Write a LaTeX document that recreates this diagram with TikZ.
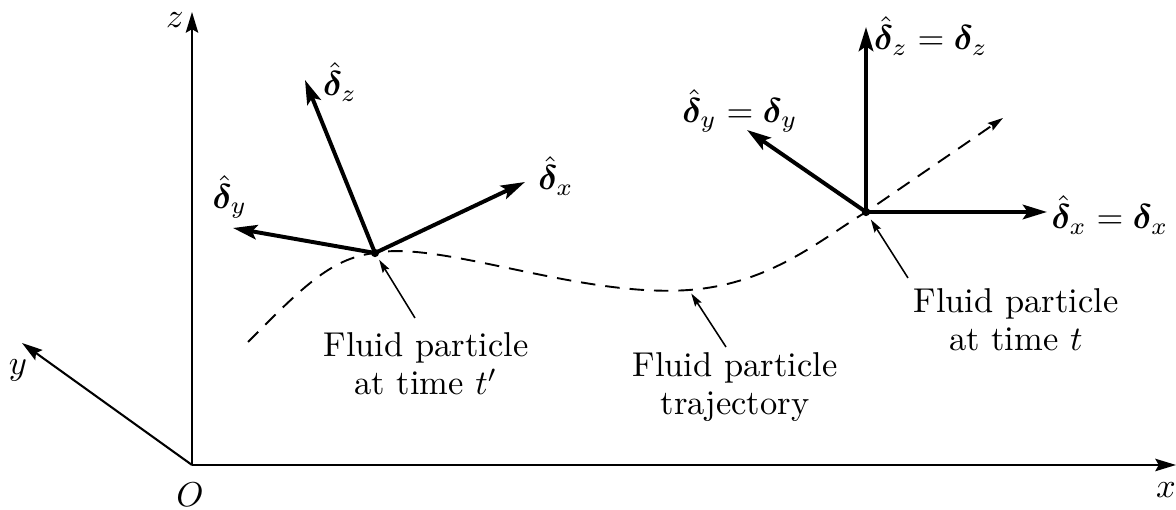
\documentclass[tikz,border=0pt]{standalone}
\usepackage{amsmath,bm}
\usepackage{tikz}
\usetikzlibrary{arrows.meta,positioning}

\newcommand{\dhat}[1]{\hat{\bm{\delta}}_{#1}}
\newcommand{\dvec}[1]{\bm{\delta}_{#1}}

\begin{document}
\begin{tikzpicture}[x=0.29pt,y=-0.29pt,font={\fontsize{10}{11}\selectfont}]
  \tikzset{ax/.style={line width=0.6pt,-{Stealth[length=6pt,width=3.6pt,inset=1pt]}},
    vec/.style={line width=1.15pt,-{Stealth[length=7pt,width=4.2pt,inset=1.4pt]}},
    lead/.style={line width=0.45pt,-{Stealth[length=3.8pt,width=2.2pt,inset=0.6pt]}},
    traj/.style={line width=0.55pt,dash pattern=on 4.2pt off 2.9pt},
    lbl/.style={align=center,inner sep=0pt},
    dot/.style={circle,fill,inner sep=0pt,minimum size=2.4pt}}
  \useasboundingbox (0,0) rectangle (1176,510);
  % axes
  \coordinate (O) at (192,465);
  \coordinate (zend) at (192,12);
  \coordinate (xend) at (1176,465);
  \coordinate (yend) at (22,343);
  \draw[ax] (O) -- (zend);
  \draw[ax] (O) -- (xend);
  \draw[ax] (O) -- (yend);
  \node (zlab) at (175,20) {$z$};
  \node (xlab) at (1166,490) {$x$};
  \node (ylab) at (18,370) {$y$};
  \node (olab) at (190,495) {$O$};
  % particles
  \node[dot] (pa) at (375,253) {};
  \node[dot] (pb) at (866,212) {};
  % trajectory
  \coordinate (t0) at (248,342);
  \coordinate (tp) at (689,290);
  \coordinate (t9) at (1003,118);
  \draw[traj,-{Stealth[length=4.5pt,width=2.6pt,inset=0.7pt]}] (t0) .. controls (300,290) and (330,258) .. (pa.center)
    .. controls (440,240) and (580,298) .. (tp) .. controls (770,284) and (820,240) .. (pb.center) -- (t9);
  % frame at time t'
  \coordinate (az) at (305,80);
  \coordinate (ax) at (525,182);
  \coordinate (ay) at (233,228);
  \draw[vec] (pa.center) -- (az);
  \draw[vec] (pa.center) -- (ax);
  \draw[vec] (pa.center) -- (ay);
  \node (azl) at (340,82) {$\dhat{z}$};
  \node (axl) at (556,176) {$\dhat{x}$};
  \node (ayl) at (230,197) {$\dhat{y}$};
  % frame at time t
  \coordinate (bz) at (866,27);
  \coordinate (bx) at (1047,212);
  \coordinate (by) at (747,130);
  \draw[vec] (pb.center) -- (bz);
  \draw[vec] (pb.center) -- (bx);
  \draw[vec] (pb.center) -- (by);
  \node (bzl) at (931,36) {$\dhat{z}=\dvec{z}$};
  \node (bxl) at (1110,215) {$\dhat{x}=\dvec{x}$};
  \node (byl) at (740,111) {$\dhat{y}=\dvec{y}$};
  % labels
  \node[lbl] (lblA) at (426,364) {Fluid particle\\at time $t'$};
  \node[lbl] (lblT) at (735,387) {Fluid particle\\trajectory};
  \node[lbl] (lblB) at (1016,320) {Fluid particle\\at time $t$};
  \coordinate (la) at (415,318);
  \coordinate (lt) at (726,347);
  \coordinate (lb) at (908,278);
  \draw[lead,shorten >=2.3pt] (la) -- (pa.center);
  \draw[lead,shorten >=1.2pt] (lt) -- (tp);
  \draw[lead,shorten >=2.6pt] (lb) -- (pb.center);
\end{tikzpicture}
\end{document}
